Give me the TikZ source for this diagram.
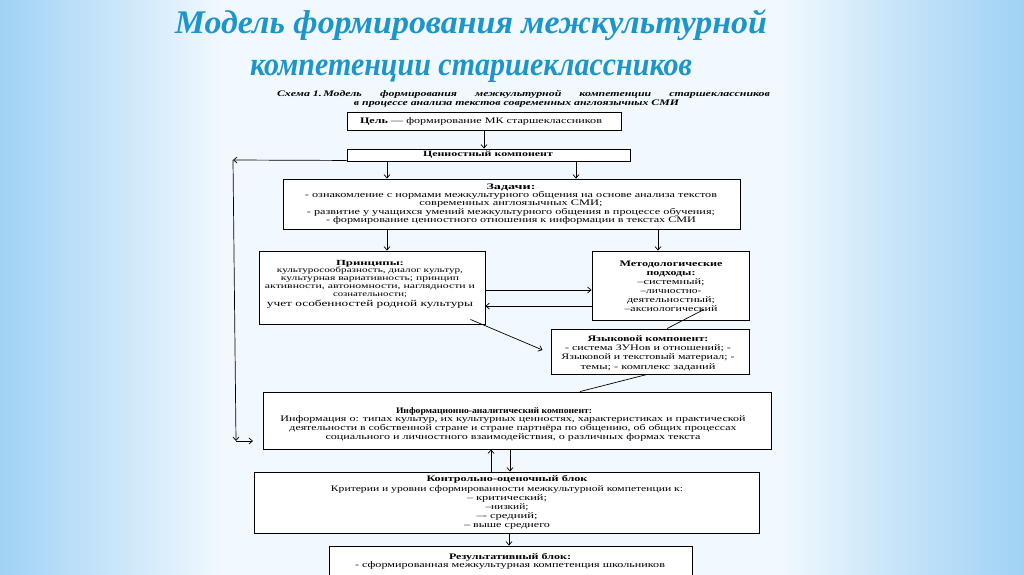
\documentclass[tikz,border=0pt]{standalone}
\usepackage{fontspec}
\setmainfont{Liberation Serif}
\newfontfamily\capfont[FakeStretch=1.4]{Liberation Serif}
\usetikzlibrary{arrows.meta,calc}
\definecolor{bgb}{RGB}{160,210,245}
\definecolor{bgw}{RGB}{242,249,254}
\definecolor{titleblue}{RGB}{28,150,202}
\pgfdeclarehorizontalshading{bgsh}{100bp}{color(0bp)=(bgb); color(25bp)=(bgb); color(30bp)=(bgb!55!bgw); color(36bp)=(bgw); color(63bp)=(bgw); color(69bp)=(bgb!55!bgw); color(75bp)=(bgb); color(100bp)=(bgb)}
\newcommand{\fw}[2]{\resizebox{#1pt}{\height}{#2}}
\tikzset{
  box/.style={draw=black, line width=0.9pt, fill=white, inner sep=0pt},
  txt/.style={inner sep=0pt, align=center, font=\fontsize{8.5}{8.6}\selectfont},
  arr/.style={line width=0.7pt, -{Straight Barb[length=3.5pt,width=6pt]}},
  ln/.style={line width=0.7pt},
  ttl/.style={inner sep=0pt, anchor=base, text=titleblue, font=\fontsize{33}{36}\selectfont\bfseries\itshape},
}
\begin{document}
\begin{tikzpicture}[x=1pt,y=-1pt]
\useasboundingbox (0,0) rectangle (1024,574);
\clip (0,0) rectangle (1024,574);
\shade[shading=bgsh] (0,0) rectangle (1024,574);

% title
\node[ttl] (t1) at (471,33) {\fw{592}{Модель формирования межкультурной}};
\node[ttl] (t2) at (471,75) {\fw{442}{компетенции старшеклассников}};

% caption
\node[inner sep=0pt, font=\fontsize{8.5}{9}\selectfont] (c1) at (523.5,94) {\makebox[493pt][s]{\capfont\bfseries\itshape \mbox{Схема 1.\,Модель} формирования межкультурной компетенции старшеклассников}};
\node[inner sep=0pt, font=\fontsize{8.5}{9}\selectfont] (c2) at (516.5,104) {\fw{325}{\bfseries\itshape в процессе анализа текстов современных англоязычных СМИ}};

% boxes
\node[box, minimum width=274pt, minimum height=18pt] (goal) at (484,121) {};
\node[box, minimum width=283pt, minimum height=12pt] (cv) at (488.5,155) {};
\node[box, minimum width=457pt, minimum height=50pt] (tasks) at (511.5,204) {};
\node[box, minimum width=226pt, minimum height=73pt] (pr) at (372,287.5) {};
\node[box, minimum width=157pt, minimum height=69pt] (md) at (670.5,285.5) {};
\node[box, minimum width=198pt, minimum height=45pt] (lang) at (650,351.5) {};
\node[box, minimum width=508pt, minimum height=57pt] (info) at (517,420.5) {};
\node[box, minimum width=505pt, minimum height=61pt] (ctrl) at (506.5,502.5) {};
\node[box, minimum width=363pt, minimum height=54pt] (res) at (510.5,573) {};

% texts
\node[txt] (goalt) at (481,121) {\fw{242}{\textbf{Цель} — формирование МК старшеклассников}};
\node[txt, font=\fontsize{8}{8}\selectfont] (cvt) at (488,155) {\fw{130}{\textbf{Ценностный компонент}}};
\node[txt, font=\fontsize{8.5}{8.4}\selectfont] (taskst) at (511,204) {\fw{49}{\textbf{Задачи:}}\\
\fw{412}{- ознакомление с нормами межкультурного общения на основе анализа текстов}\\
\fw{183}{современных англоязычных СМИ;}\\
\fw{408}{- развитие у учащихся умений межкультурного общения в процессе обучения;}\\
\fw{370}{- формирование ценностного отношения к информации в текстах СМИ}};
\node[txt, font=\fontsize{7.8}{7.9}\selectfont] (prt) at (370,284) {\fw{68}{\textbf{Принципы:}}\\
\fw{186}{культуросообразность, диалог культур,}\\
\fw{178}{культурная вариативность; принцип}\\
\fw{210}{активности, автономности, наглядности и}\\
\fw{74}{сознательности;}\\[1.5pt]
{\fontsize{9}{9}\selectfont\fw{206}{учет особенностей родной культуры}}};
\node[txt, font=\fontsize{8.5}{9}\selectfont] (mdt) at (671,286.5) {\fw{103}{\textbf{Методологические}}\\
\fw{49}{\textbf{подходы:}}\\
\fw{67}{–системный;}\\
\fw{61}{–личностно-}\\
\fw{88}{деятельностный;}\\
\fw{93}{–аксиологический}};
\node[txt, font=\fontsize{8.5}{9.3}\selectfont] (langt) at (648,353) {\fw{121}{\textbf{Языковой компонент:}}\\
\fw{166}{- система ЗУНов и отношений; -}\\
\fw{173}{Языковой и текстовый материал; -}\\
\fw{135}{темы; - комплекс заданий}};
\node[txt, font=\fontsize{8.5}{8.7}\selectfont] (infot) at (513,424) {\makebox[234pt][l]{\fw{196}{\textbf{Информационно-аналитический компонент:}}}\\
\fw{465}{Информация о: типах культур, их культурных ценностях, характеристиках и практической}\\
\fw{447}{деятельности в собственной стране и стране партнёра по общению, об общих процессах}\\
\fw{375}{социального и личностного взаимодействия, о различных формах текста}};
\node[txt, font=\fontsize{8.5}{9.1}\selectfont] (ctrlt) at (507,502.5) {\fw{161}{\textbf{Контрольно-оценочный блок}}\\
\fw{352}{Критерии и уровни сформированности межкультурной компетенции к:}\\
\fw{80}{– критический;}\\
\fw{43}{–низкий;}\\
\fw{61}{–- средний;}\\
\fw{86}{– выше среднего}};
\node[txt, font=\fontsize{8.5}{8.2}\selectfont] (rest) at (510,561) {\fw{122}{\textbf{Результативный блок:}}\\
\fw{310}{- сформированная межкультурная компетенция школьников}};

% connectors
\draw[arr] (goal.south) -- (goal.south |- cv.north);
\draw[arr] ([xshift=-101.5pt]cv.south) -- ([xshift=-124.5pt]tasks.north);
\draw[arr] ([xshift=87.5pt]cv.south) -- ([xshift=64.5pt]tasks.north);
\draw[arr] ([xshift=-124.5pt]tasks.south) -- ([xshift=15pt]pr.north);
\draw[arr] ([xshift=146.5pt]tasks.south) -- ([xshift=-12.5pt]md.north);
\draw[arr] ([yshift=-2.5pt]pr.east) -- ([yshift=-4.5pt]md.west);
\draw[arr] ([yshift=-20.5pt]md.west) -- ([yshift=-18.5pt]pr.east);
\draw[arr] ([xshift=-15pt,yshift=5pt]pr.south east) -- ([xshift=-8pt,yshift=1.5pt]lang.west);
\draw[ln] ([xshift=17pt]lang.north) -- ([xshift=33.5pt,yshift=11pt]md.south);
\draw[ln] ([xshift=-3pt]lang.south) -- ([xshift=63pt]info.north);
\draw[arr] ([xshift=-15.5pt]ctrl.north) -- ([xshift=-26pt]info.south);
\draw[arr] ([xshift=-7pt]info.south) -- ([xshift=3.5pt]ctrl.north);
\draw[arr] ([xshift=2.5pt]ctrl.south) -- ([xshift=-1.5pt]res.north);

\coordinate (lt) at (233,160);
\coordinate (lb) at (236,441);
\coordinate (lr) at (253,441);
\draw[arr] ([yshift=1pt]cv.south west) -- (lt);
\draw[arr] (lt) -- (lb);
\draw[arr] (lb) -- (lr);
\end{tikzpicture}
\end{document}
